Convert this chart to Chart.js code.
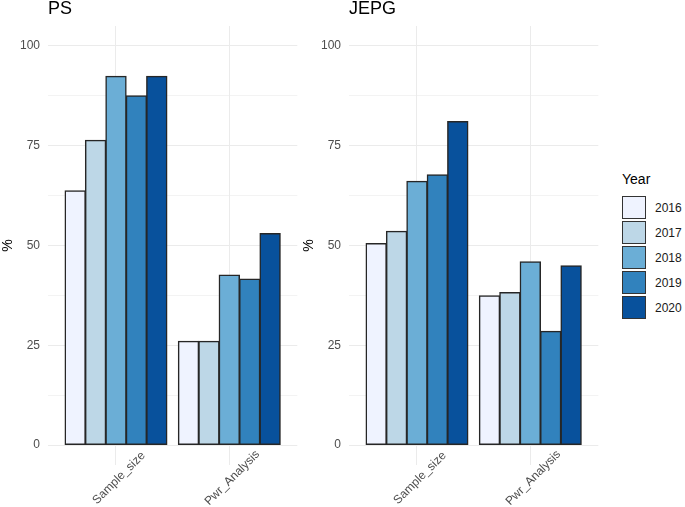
<!DOCTYPE html>
<html>
<head>
<meta charset="utf-8">
<script src="https://cdn.jsdelivr.net/npm/chart.js@4.4.0/dist/chart.umd.min.js"></script>
<style>
  body { margin: 0; background: #fff; width: 685px; height: 507px; position: relative; overflow: hidden; font-family: "Liberation Sans", Arial, sans-serif; }
  canvas { position: absolute; top: 0; }
  #psChart { left: 0; }
  #jepgChart { left: 301px; }
  #legend { position: absolute; left: 622px; top: 171px; }
  #legend .title { font-size: 14px; color: #000; height: 24px; line-height: 17px; }
  #legend .row { display: flex; align-items: center; height: 25px; }
  #legend .key { width: 24px; height: 23px; box-sizing: border-box; border: 1.5px solid #333; }
  #legend .lab { font-size: 12px; color: #1a1a1a; margin-left: 9px; }
</style>
</head>
<body>
<canvas id="psChart" width="300" height="507"></canvas>
<canvas id="jepgChart" width="300" height="507"></canvas>
<div id="legend"></div>
<script>
const categories = ["Sample_size", "Pwr_Analysis"];
const years = ["2016", "2017", "2018", "2019", "2020"];
const yearColors = ["#EFF3FF", "#BDD7E7", "#6BAED6", "#3182BD", "#08519C"];

// values per year: [Sample_size, Pwr_Analysis]
const psValues = [
  [63.7, 26.0],
  [76.4, 26.0],
  [92.4, 42.6],
  [87.5, 41.6],
  [92.4, 53.0]
];
const jepgValues = [
  [50.5, 37.4],
  [53.6, 38.2],
  [66.1, 45.9],
  [67.7, 28.5],
  [81.1, 44.9]
];

const yTicks = [0, 12.5, 25, 37.5, 50, 62.5, 75, 87.5, 100];
const font = "'Liberation Sans', Arial, sans-serif";

// rotated category labels, centred on each tick like ggplot does
const catLabels = {
  id: "catLabels",
  afterDraw(chart) {
    const ctx = chart.ctx;
    const xs = chart.scales.x;
    ctx.save();
    ctx.font = "12px " + font;
    ctx.fillStyle = "#4D4D4D";
    ctx.textAlign = "center";
    ctx.textBaseline = "middle";
    categories.forEach((c, i) => {
      const x = xs.getPixelForValue(i) + 3;
      const y = chart.chartArea.bottom + 13;
      ctx.save();
      ctx.translate(x, y);
      ctx.rotate(-Math.PI / 4);
      ctx.fillText(c, 0, 0);
      ctx.restore();
    });
    ctx.restore();
  }
};

function makeChart(id, title, values) {
  const datasets = years.map((yr, i) => ({
    label: yr,
    data: categories.map((c, j) => ({ x: j, y: values[i][j] })),
    backgroundColor: yearColors[i],
    borderColor: "#262626",
    borderWidth: 1.5,
    borderSkipped: false,
    inflateAmount: 0.5,
    categoryPercentage: 0.9,
    barPercentage: 1.0
  }));

  return new Chart(document.getElementById(id), {
    type: "bar",
    data: { datasets },
    plugins: [catLabels],
    options: {
      responsive: false,
      animation: false,
      layout: { padding: { left: 0, right: 2.7, top: 0, bottom: 0 } },
      plugins: {
        legend: { display: false },
        tooltip: { enabled: false },
        title: {
          display: true,
          text: title,
          align: "start",
          fullSize: false,
          color: "#000",
          font: { family: font, size: 18, weight: "normal", lineHeight: 1.0 },
          padding: { top: 0, bottom: 8 }
        }
      },
      scales: {
        x: {
          type: "linear",
          min: -0.6,
          max: 1.6,
          offset: false,
          afterBuildTicks: (scale) => { scale.ticks = categories.map((c, i) => ({ value: i })); },
          afterFit: (scale) => { scale.height = 42; },
          ticks: { display: false },
          grid: { color: "#EBEBEB", lineWidth: 1, drawTicks: false, offset: false },
          border: { display: false }
        },
        y: {
          min: -5,
          max: 105,
          afterBuildTicks: (scale) => { scale.ticks = yTicks.map(v => ({ value: v })); },
          afterFit: (scale) => { scale.width = 48; },
          ticks: {
            padding: 8,
            color: "#4D4D4D",
            font: { family: font, size: 12 },
            callback: (v) => (v % 25 === 0 ? v : "")
          },
          grid: {
            color: "#EBEBEB",
            lineWidth: (ctx) => (ctx.tick && ctx.tick.value % 25 === 0 ? 1 : 0.6),
            drawTicks: false
          },
          border: { display: false },
          title: {
            display: true,
            text: "%",
            color: "#000",
            font: { family: font, size: 14 },
            padding: 0
          }
        }
      }
    }
  });
}

makeChart("psChart", "PS", psValues);
makeChart("jepgChart", "JEPG", jepgValues);

// legend
const legend = document.getElementById("legend");
legend.innerHTML = '<div class="title">Year</div>' +
  years.map((yr, i) =>
    '<div class="row"><div class="key" style="background:' + yearColors[i] + '"></div><span class="lab">' + yr + '</span></div>'
  ).join("");
</script>
</body>
</html>
